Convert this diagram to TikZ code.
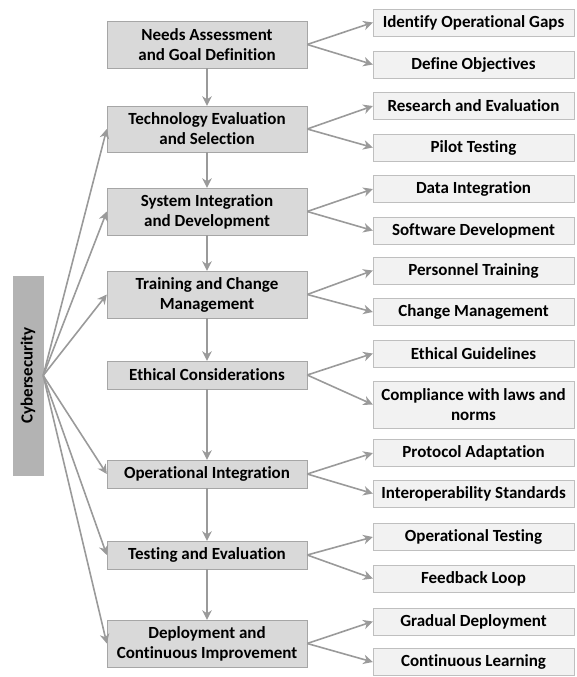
\documentclass[tikz,border=0pt]{standalone}
\usepackage{fontspec}
\setmainfont[Ligatures={NoCommon}]{Carlito}
\usetikzlibrary{arrows.meta}
\definecolor{midfill}{HTML}{D9D9D9}
\definecolor{midline}{HTML}{A6A6A6}
\definecolor{subfill}{HTML}{F2F2F2}
\definecolor{subline}{HTML}{BFBFBF}
\definecolor{cyberfill}{HTML}{B3B3B3}
\definecolor{arrowgray}{HTML}{9A9A9A}
\tikzset{
    phase/.style={draw=midline, fill=midfill, minimum width=200pt, inner sep=0pt, align=center, font=\bfseries\fontsize{17}{20}\selectfont},
    task/.style={draw=subline, fill=subfill, minimum width=201pt, minimum height=27pt, inner sep=0pt, align=center, font=\bfseries\fontsize{17}{20}\selectfont},
    flow/.style={draw=arrowgray, line width=1.6pt, -{Stealth[length=9.5pt, width=9.5pt, inset=3pt]}}
}
\begin{document}
\begin{tikzpicture}[x=1pt, y=-1pt]
    \useasboundingbox (0, 0) rectangle (577, 677);
\node[draw=cyberfill, fill=cyberfill, minimum width=199pt, minimum height=30pt, inner sep=0pt, rotate=90, font=\bfseries\fontsize{17}{20}\selectfont] (cyber) at (28, 375.5) {Cybersecurity};
\node[phase, minimum height=47pt] (needs) at (207, 44.5) {Needs Assessment\\and Goal Definition};
\node[phase, minimum height=46pt] (tech) at (207, 129) {Technology Evaluation\\and Selection};
\node[phase, minimum height=47pt] (system) at (207, 211.5) {System Integration\\and Development};
\node[phase, minimum height=47pt] (training) at (207, 294.5) {Training and Change\\Management};
\node[phase, minimum height=28pt] (ethics) at (207, 375) {Ethical Considerations};
\node[phase, minimum height=28pt] (operation) at (207, 474) {Operational Integration};
\node[phase, minimum height=28pt] (testing) at (207, 555) {Testing and Evaluation};
\node[phase, minimum height=47pt] (deploy) at (207, 643.5) {Deployment and\\Continuous Improvement};
    \node[task] (gaps) at (473.5, 22.5) {Identify Operational Gaps};
    \node[task] (objectives) at (473.5, 64.5) {Define Objectives};
    \node[task] (research) at (473.5, 106) {Research and Evaluation};
    \node[task] (pilot) at (473.5, 147.5) {Pilot Testing};
    \node[task] (data) at (473.5, 189) {Data Integration};
    \node[task] (software) at (473.5, 230.5) {Software Development};
    \node[task] (personnel) at (473.5, 270.5) {Personnel Training};
    \node[task] (change) at (473.5, 312) {Change Management};
    \node[task] (guidelines) at (473.5, 353.5) {Ethical Guidelines};
    \node[task, minimum height=47pt] (compliance) at (473.5, 404.5) {Compliance with laws and\\norms};
    \node[task] (protocol) at (473.5, 453) {Protocol Adaptation};
    \node[task] (interop) at (473.5, 493.5) {Interoperability Standards};
    \node[task] (optesting) at (473.5, 537) {Operational Testing};
    \node[task] (feedback) at (473.5, 578.5) {Feedback Loop};
    \node[task] (gradual) at (473.5, 621.5) {Gradual Deployment};
    \node[task] (learning) at (473.5, 662) {Continuous Learning};
\draw[flow] (needs) -- (tech);
\draw[flow] (tech) -- (system);
\draw[flow] (system) -- (training);
\draw[flow] (training) -- (ethics);
\draw[flow] (ethics) -- (operation);
\draw[flow] (operation) -- (testing);
\draw[flow] (testing) -- (deploy);
\draw[flow] (cyber.south) -- (tech.west);
\draw[flow] (cyber.south) -- (system.west);
\draw[flow] (cyber.south) -- (training.west);
\draw[flow] (cyber.south) -- (operation.west);
\draw[flow] (cyber.south) -- (testing.west);
\draw[flow] (cyber.south) -- (deploy.west);
    \draw[flow] (needs.east) -- (gaps.west);
    \draw[flow] (needs.east) -- (objectives.west);
    \draw[flow] (tech.east) -- (research.west);
    \draw[flow] (tech.east) -- (pilot.west);
    \draw[flow] (system.east) -- (data.west);
    \draw[flow] (system.east) -- (software.west);
    \draw[flow] (training.east) -- (personnel.west);
    \draw[flow] (training.east) -- (change.west);
    \draw[flow] (ethics.east) -- (guidelines.west);
    \draw[flow] (ethics.east) -- (compliance.west);
    \draw[flow] (operation.east) -- (protocol.west);
    \draw[flow] (operation.east) -- (interop.west);
    \draw[flow] (testing.east) -- (optesting.west);
    \draw[flow] (testing.east) -- (feedback.west);
    \draw[flow] (deploy.east) -- (gradual.west);
    \draw[flow] (deploy.east) -- (learning.west);
\end{tikzpicture}
\end{document}
